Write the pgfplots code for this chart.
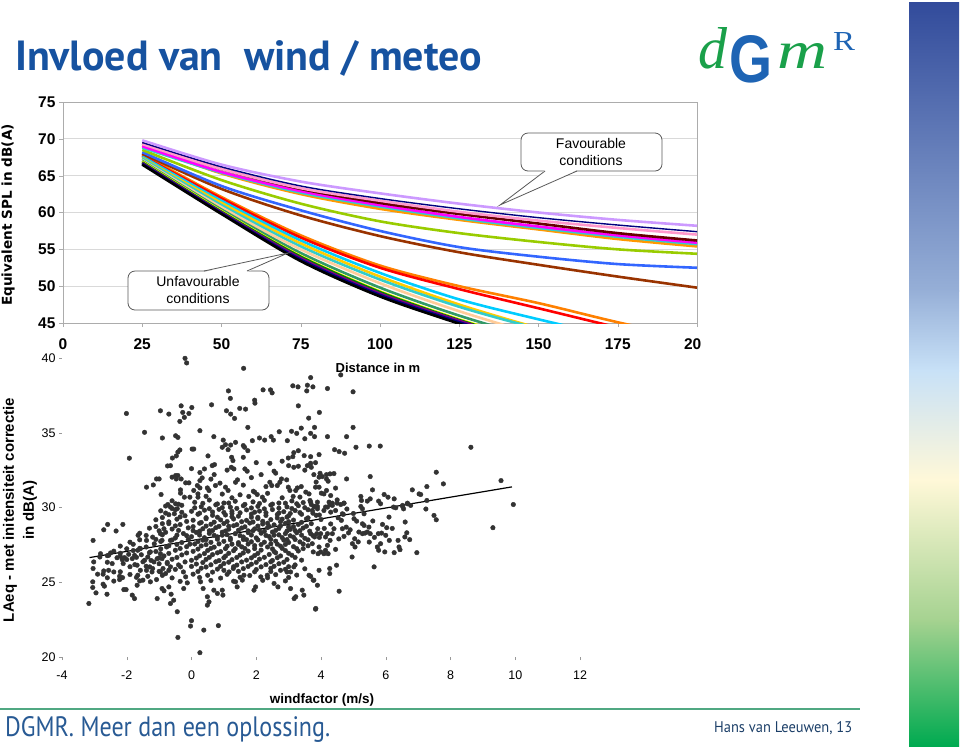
\documentclass[border=0pt]{standalone}
\usepackage{pgfplots}
\pgfplotsset{compat=1.18}
\usepackage{graphicx}
\usepackage{fontspec}
\setmainfont{Liberation Sans}
\newfontfamily\dejavu{DejaVu Sans}
\newfontfamily\ptsans{PT Sans}
\newfontfamily\lserif{Liberation Serif}
\definecolor{titleblue}{HTML}{1652A0}
\definecolor{footblue}{HTML}{285A94}
\definecolor{footline}{HTML}{50A882}
\definecolor{logogreen}{HTML}{1AA04A}
\definecolor{logoblue}{HTML}{1E64B4}
\definecolor{barA}{HTML}{324B9B}
\definecolor{barB}{HTML}{96AFD7}
\definecolor{barC}{HTML}{C8E1F7}
\definecolor{barD}{HTML}{FFF8D8}
\definecolor{barE}{HTML}{A5D290}
\definecolor{barF}{HTML}{00AA50}
\definecolor{cLav}{HTML}{CC99FF}
\definecolor{cNavy}{HTML}{000080}
\definecolor{cPink}{HTML}{FF99CC}
\definecolor{cMaroon}{HTML}{660000}
\definecolor{cMag}{HTML}{FF00FF}
\definecolor{cCyan}{HTML}{33CCCC}
\definecolor{cOrange}{HTML}{FF9900}
\definecolor{cYG}{HTML}{99CC00}
\definecolor{cBlue}{HTML}{3366FF}
\definecolor{cBrown}{HTML}{993300}
\definecolor{cPurple}{HTML}{800080}
\definecolor{cGreen}{HTML}{008000}
\definecolor{cYellow}{HTML}{FFFF00}
\definecolor{cTeal}{HTML}{339966}
\definecolor{cPeach}{HTML}{FFCC99}
\definecolor{cGold}{HTML}{FFCC00}
\definecolor{cSky}{HTML}{00CCFF}
\definecolor{cRed}{HTML}{FF0000}
\definecolor{cOr2}{HTML}{FF8000}
\definecolor{dotc}{HTML}{333333}
\begin{document}
\begin{tikzpicture}
\begin{scope}[x=1pt,y=-1pt]
\path[use as bounding box] (0,0) rectangle (960,748);
% gradient bar
\shade[top color=barA,bottom color=barB] (909,2) rectangle (959,291);
\shade[top color=barB,bottom color=barC] (909,290) rectangle (959,371);
\shade[top color=barC,bottom color=barD] (909,370) rectangle (959,481);
\shade[top color=barD,bottom color=barE] (909,480) rectangle (959,621);
\shade[top color=barE,bottom color=barF] (909,620) rectangle (959,746);
% title
\node[anchor=base west, inner sep=0pt, text=titleblue] at (15,70) {\resizebox{467pt}{30pt}{\ptsans\bfseries Invloed van\ \ wind / meteo}};
% logo
\node[anchor=base west, inner sep=0pt, text=logogreen] at (698,68) {\resizebox{29pt}{41pt}{\lserif\itshape d}};
\node[anchor=base west, inner sep=0pt, text=logoblue] at (729,82) {\resizebox{43pt}{47pt}{\bfseries G}};
\node[anchor=base west, inner sep=0pt, text=logogreen] at (777,68) {\resizebox{50pt}{25pt}{\lserif\itshape m}};
\node[anchor=base west, inner sep=0pt, text=logoblue] at (833,50) {\resizebox{22pt}{18pt}{\lserif R}};
% footer
\draw[footline, line width=2pt] (0,709) -- (860,709);
\node[anchor=base west, inner sep=0pt, text=footblue] at (5,736) {\resizebox{325pt}{20pt}{\ptsans DGMR. Meer dan een oplossing.}};
\node[anchor=base west, inner sep=0pt, text=footblue!70!black] at (714,732) {\resizebox{138pt}{11pt}{\ptsans Hans van Leeuwen, 13}};
\end{scope}

% ---------- top chart ----------
\begin{axis}[at={(63pt,-323pt)}, anchor=south west, scale only axis,
  width=634pt, height=221pt,
  xmin=0, xmax=200, ymin=45, ymax=75,
  xtick={0,25,...,200}, ytick={45,50,...,75},
  xticklabels={0,25,50,75,100,125,150,175,{20\phantom{0}}},
  ymajorgrids, grid style={gray!30, line width=0.8pt},
  axis line style={gray!65, line width=0.8pt},
  tick style={gray!65}, tick align=outside, tick pos=left, major tick length=4pt,
  ticklabel style={font=\fontsize{15.5}{16}\selectfont\bfseries},
  xticklabel style={yshift=-8pt},
  /pgf/number format/assume math mode=true]
% unfavourable
\addplot[cOr2, line width=2.6pt, smooth] coordinates {(25,67.9) (50,62.1) (75,56.9) (100,52.8) (125,50.0) (150,47.7) (175,45.1) (200,42.8)};
\addplot[cRed, line width=2.6pt, smooth] coordinates {(25,67.7) (50,61.9) (75,56.6) (100,52.5) (125,49.6) (150,47.0) (175,44.4) (200,42.0)};
\addplot[cSky, line width=2.6pt, smooth] coordinates {(25,67.6) (50,61.6) (75,56.2) (100,51.8) (125,48.2) (150,45.5) (175,43.0)};
\addplot[cGold, line width=2.6pt, smooth] coordinates {(25,67.4) (50,61.3) (75,55.8) (100,51.3) (125,47.5) (150,44.3) (175,41.5)};
\addplot[cCyan, line width=2.6pt, smooth] coordinates {(25,67.3) (50,61.0) (75,55.4) (100,50.9) (125,47.2) (150,44.2) (175,41.5)};
\addplot[cPeach, line width=2.6pt, smooth] coordinates {(25,67.1) (50,60.7) (75,55.0) (100,50.4) (125,46.6) (150,43.4) (175,40.8)};
\addplot[cTeal, line width=2.6pt, smooth] coordinates {(25,67.0) (50,60.4) (75,54.5) (100,49.8) (125,46.0) (150,42.8)};
\addplot[cYellow, line width=2.6pt, smooth] coordinates {(25,66.9) (50,60.2) (75,54.1) (100,49.3) (125,45.5) (150,42.3)};
\addplot[cGreen, line width=2.6pt, smooth] coordinates {(25,66.8) (50,60.1) (75,54.0) (100,49.2) (125,45.4) (150,42.2)};
\addplot[cPurple, line width=2.6pt, smooth] coordinates {(25,66.7) (50,60.0) (75,53.8) (100,49.0) (125,45.3) (150,42.0)};
\addplot[cNavy, line width=2.6pt, smooth] coordinates {(25,66.6) (50,59.9) (75,53.6) (100,48.8) (125,45.1) (150,41.8)};
\addplot[black, line width=2.6pt, smooth] coordinates {(25,66.5) (50,59.8) (75,53.4) (100,48.6) (125,44.9) (150,41.5)};
% favourable
\addplot[cBrown, line width=2.6pt, smooth] coordinates {(25,68.0) (50,63.2) (75,59.6) (100,56.8) (125,54.6) (150,52.9) (175,51.3) (200,49.8)};
\addplot[cBlue, line width=2.6pt, smooth] coordinates {(25,68.2) (50,63.6) (75,60.3) (100,57.5) (125,55.3) (150,54.0) (175,53.0) (200,52.5)};
\addplot[cYG, line width=2.6pt, smooth] coordinates {(25,68.5) (50,64.4) (75,61.2) (100,58.8) (125,57.2) (150,56.0) (175,55.0) (200,54.4)};
\addplot[cOrange, line width=2.6pt, smooth] coordinates {(25,69.1) (50,65.3) (75,62.5) (100,60.5) (125,59.0) (150,57.7) (175,56.4) (200,55.4)};
\addplot[cCyan, line width=2.6pt, smooth] coordinates {(25,68.8) (50,65.4) (75,62.7) (100,60.8) (125,59.2) (150,57.9) (175,56.7) (200,55.7)};
\addplot[cMag, line width=2.6pt, smooth] coordinates {(25,69.0) (50,65.5) (75,62.9) (100,61.0) (125,59.4) (150,58.1) (175,56.9) (200,55.9)};
\addplot[cMaroon, line width=2.6pt, smooth] coordinates {(25,69.4) (50,65.9) (75,63.2) (100,61.3) (125,59.8) (150,58.5) (175,57.2) (200,56.2)};
\addplot[cPink, line width=2.6pt, smooth] coordinates {(25,69.3) (50,65.9) (75,63.3) (100,61.6) (125,60.1) (150,58.9) (175,57.9) (200,57.0)};
\addplot[cNavy, line width=1.4pt, smooth] coordinates {(25,69.5) (50,66.2) (75,63.6) (100,61.9) (125,60.5) (150,59.3) (175,58.3) (200,57.4)};
\addplot[cLav, line width=2.6pt, smooth] coordinates {(25,69.8) (50,66.5) (75,64.2) (100,62.6) (125,61.2) (150,60.0) (175,59.0) (200,58.2)};
\end{axis}

\begin{scope}[x=1pt,y=-1pt]
% axis titles of the top chart
\node[rotate=90, inner sep=0pt] at (8,215) {\dejavu\bfseries\fontsize{13.6}{15}\selectfont Equivalent SPL in dB(A)};
\node[inner sep=0pt] at (378,368) {\fontsize{13}{14}\selectfont\bfseries Distance in m};
% callouts
\filldraw[fill=white, draw=black!65, line width=0.8pt, rounded corners=7pt] (521,133) rectangle (662,171);
\fill[white] (545,170) -- (500,205) -- (577,170) -- cycle;
\draw[black!65, line width=0.8pt] (545,171) -- (500,205) -- (577,171);
\node[align=center, inner sep=0pt, font=\fontsize{14}{17}\selectfont] at (591,152) {Favourable\\conditions};
\filldraw[fill=white, draw=black!65, line width=0.8pt, rounded corners=7pt] (128,271) rectangle (269,310);
\fill[white] (204,272) -- (288,253) -- (247,272) -- cycle;
\draw[black!65, line width=0.8pt] (204,271) -- (288,253) -- (247,271);
\node[align=center, inner sep=0pt, font=\fontsize{14}{17}\selectfont] at (198,290) {Unfavourable\\conditions};
% axis titles of the scatter
\node[rotate=90, inner sep=0pt] at (10,510) {\fontsize{15}{16}\selectfont\bfseries LAeq - met initensiteit correctie};
\node[rotate=90, inner sep=0pt] at (30,510) {\fontsize{15}{16}\selectfont\bfseries in dB(A)};
\node[inner sep=0pt] at (322,700) {\fontsize{13.5}{14}\selectfont\bfseries windfactor (m/s)};
\end{scope}

% ---------- scatter ----------
\begin{axis}[at={(62pt,-657pt)}, anchor=south west, scale only axis,
  width=518pt, height=299pt,
  xmin=-4, xmax=12, ymin=20, ymax=40,
  xtick={-4,-2,...,12}, ytick={20,25,...,40},
  axis line style={draw=none},
  tick style={gray!80, line width=0.5pt}, tick align=outside, tick pos=left, major tick length=3pt,
  ticklabel style={font=\fontsize{12.5}{13}\selectfont},
  xticklabel style={yshift=-7pt},
  /pgf/number format/assume math mode=true,
  clip=false]
\addplot[only marks, mark=*, mark size=2.3pt, mark options={fill=dotc, draw=dotc}] table {
x y
-0.20 39.98
-0.15 39.67
1.61 39.31
3.68 38.69
3.13 38.14
3.29 38.07
3.58 38.18
3.75 38.07
3.56 37.80
2.21 37.87
2.44 37.87
2.49 37.67
1.14 37.80
1.20 37.30
1.95 37.18
1.96 36.98
-2.01 36.29
-0.96 36.47
-0.70 36.25
-0.32 36.80
0.01 36.69
-0.27 36.36
-0.08 36.29
-0.22 36.03
-0.36 35.76
0.62 36.87
1.08 36.47
1.21 36.25
1.33 35.96
1.49 36.63
1.67 36.58
3.30 36.80
3.62 35.98
3.95 36.36
-1.45 35.03
-0.90 34.65
-0.49 34.80
-0.42 34.69
0.26 35.14
0.69 34.74
1.74 35.36
0.98 34.51
1.05 34.20
0.95 34.03
1.21 34.18
1.13 33.87
1.36 34.36
1.60 34.14
1.64 34.03
1.74 33.80
1.88 34.47
2.10 34.65
2.26 34.51
2.46 34.74
2.53 34.51
2.71 35.07
2.96 34.47
3.09 35.10
3.25 34.96
3.39 35.31
3.50 34.60
3.68 34.96
3.80 34.74
0.02 33.91
0.07 33.91
-0.36 33.85
-0.42 33.71
0.51 33.45
-0.59 33.31
-0.47 33.45
-0.74 32.78
-0.65 32.80
0.64 32.80
0.71 32.87
0.26 32.34
0.40 32.58
0.26 31.80
0.33 31.98
1.24 33.36
1.28 33.14
1.23 32.69
1.31 32.58
1.60 33.36
1.65 32.58
1.72 32.43
2.42 32.96
2.15 32.20
2.55 32.43
2.60 32.30
2.99 33.31
3.13 33.40
3.16 33.67
3.30 33.80
3.00 32.80
3.16 32.69
3.30 32.76
3.48 33.47
3.68 33.40
3.58 32.80
3.70 32.69
3.83 33.00
3.94 33.54
-1.92 33.30
-1.39 31.36
-1.18 31.51
-1.08 31.91
-1.00 31.91
-0.94 30.87
-0.42 32.14
-0.47 31.91
-0.32 31.91
-0.18 31.65
-0.08 31.65
-0.34 31.18
-0.34 30.96
-0.22 30.69
0.18 31.47
0.26 31.31
0.20 30.91
0.20 30.69
-0.60 32.03
-0.49 32.14
0.07 31.14
-0.05 30.69
0.49 31.31
0.54 31.14
0.74 31.47
0.88 31.63
1.05 31.36
1.13 31.14
1.36 31.69
1.42 31.85
1.77 30.74
1.91 31.09
1.95 31.03
2.03 30.87
2.19 30.69
2.42 31.69
2.48 31.47
2.65 31.47
2.73 31.69
2.78 31.91
2.94 31.85
2.99 31.36
3.04 31.14
3.14 30.74
3.22 31.14
3.27 31.31
3.39 31.40
3.53 31.03
3.63 30.91
3.66 30.47
3.81 30.07
3.89 30.36
3.94 32.03
3.97 32.29
4.20 37.96
4.61 38.87
4.99 37.74
3.80 35.36
4.20 34.74
4.99 35.36
4.79 34.74
4.42 33.87
4.56 33.74
4.73 33.63
5.08 34.03
5.49 34.11
5.83 34.11
8.63 34.03
3.68 32.96
3.78 32.20
4.04 32.07
4.17 32.20
4.28 32.25
4.40 32.27
4.17 31.91
4.22 31.76
3.83 31.36
3.94 31.36
4.01 30.96
4.09 30.91
4.17 31.14
4.79 31.91
5.52 32.07
5.59 31.18
5.95 30.87
6.07 30.69
5.23 30.74
5.25 30.47
5.43 30.43
5.52 30.58
5.78 30.43
5.84 30.25
6.26 30.58
6.82 31.18
7.03 30.91
7.08 30.87
7.27 31.40
7.56 32.36
7.78 31.58
7.27 30.47
9.56 31.80
9.94 30.20
3.78 30.07
3.89 30.07
4.14 30.03
4.28 30.20
4.35 30.29
4.50 30.51
4.71 30.29
6.52 30.07
6.67 30.25
7.24 29.90
9.31 28.65
7.49 29.47
7.56 29.18
6.96 26.98
6.60 29.03
6.65 28.31
6.74 27.85
6.59 28.03
6.38 27.80
6.41 27.36
6.44 27.18
6.26 26.98
6.10 29.36
6.03 28.65
6.11 27.80
5.90 28.87
5.87 28.29
5.77 28.25
5.84 27.58
5.74 27.36
5.78 27.14
5.97 27.03
6.00 28.14
5.64 26.03
6.24 30.03
6.31 29.98
6.52 30.14
6.55 29.91
6.67 30.29
6.77 30.14
5.48 28.69
5.43 28.36
5.52 28.25
5.36 28.29
5.49 27.69
5.28 28.25
5.17 28.36
5.04 27.91
4.97 27.58
5.05 27.36
4.96 26.69
5.28 28.91
5.33 28.80
5.23 30.07
5.28 29.91
5.33 29.58
5.02 29.25
5.10 29.09
4.90 28.51
4.78 28.69
4.71 28.07
4.66 28.58
4.63 29.14
4.69 29.54
4.53 29.31
4.40 28.58
4.35 28.25
4.28 27.80
4.20 27.47
4.14 27.14
4.09 26.91
4.22 26.91
3.99 27.03
3.91 26.91
3.94 27.36
4.20 28.25
4.14 28.03
3.99 28.25
3.87 28.25
3.80 28.03
3.68 28.25
3.73 27.58
3.76 27.03
4.48 26.14
4.27 25.92
4.27 25.58
3.94 25.80
4.56 24.40
3.68 25.40
3.76 25.14
3.89 24.80
3.83 23.20
4.25 30.36
4.35 30.14
4.50 30.29
4.61 30.20
4.71 30.29
4.45 29.80
4.30 29.69
4.66 29.58
4.20 30.03
4.09 29.80
3.89 29.91
3.73 29.80
3.68 30.36
-3.04 27.80
-2.71 28.51
-2.59 28.87
-2.33 28.43
-2.12 28.87
-1.65 28.14
-1.39 27.80
-3.17 23.58
-3.05 25.03
-3.05 24.65
-2.95 24.29
-3.02 26.36
-3.04 25.92
-2.90 25.54
-2.71 25.76
-2.73 25.54
-2.56 25.80
-2.73 24.87
-2.69 24.74
-2.61 24.20
-2.22 25.40
-2.22 25.18
-2.13 25.31
-2.09 24.51
-2.02 24.51
-1.83 24.14
-1.76 23.91
-2.20 26.74
-2.14 26.51
-2.07 26.65
-2.11 26.25
-1.94 26.87
-1.83 26.58
-1.76 26.80
-1.66 27.14
-1.58 27.25
-2.56 26.80
-2.50 26.96
-2.45 26.25
-2.40 25.69
-2.83 26.69
-2.81 26.91
-1.68 26.14
-1.58 25.80
-1.66 25.47
-1.60 25.09
-1.68 24.80
-1.39 25.80
-1.29 26.03
-1.35 25.40
-1.22 25.69
-1.27 25.03
-1.08 25.18
-1.06 23.91
-1.45 26.47
-1.35 26.69
-1.27 27.03
-1.16 26.36
-1.06 26.58
-0.96 28.25
-0.91 27.80
-0.85 28.58
-0.77 27.36
-0.70 28.92
-0.65 27.80
-0.96 26.91
-0.91 26.58
-0.75 26.25
-0.88 25.92
-0.80 25.58
-0.70 25.80
-0.96 25.69
-0.91 24.58
-0.85 24.43
-0.70 24.69
-0.63 24.20
-0.55 23.80
-0.65 23.58
-0.44 23.03
-0.42 21.31
0.00 22.43
-0.03 22.07
0.38 21.80
0.83 22.10
0.26 20.29
-0.53 29.58
-0.44 29.92
-0.65 30.03
-0.73 30.20
-0.49 30.25
-0.34 26.03
-0.18 25.36
-0.13 24.96
-0.24 24.58
0.28 25.03
0.36 24.58
0.49 24.03
0.54 23.69
0.49 23.47
0.69 24.47
0.80 24.25
0.95 24.47
0.97 24.14
1.36 25.03
1.41 24.69
1.57 25.14
1.62 25.47
1.93 24.47
1.98 24.69
1.16 25.69
1.29 25.92
1.00 25.80
2.55 24.92
2.67 24.69
3.06 24.58
3.17 23.91
3.22 24.03
3.42 24.47
3.47 24.14
3.84 23.25
2.14 25.36
2.34 25.47
2.75 25.80
3.06 25.69
3.16 26.03
3.63 25.47
3.78 25.14
-0.60 30.45
0.10 30.35
0.55 30.50
1.00 30.30
1.35 30.42
1.90 30.38
2.25 30.48
2.70 30.30
3.10 30.44
3.45 30.33
-0.80 30.10
-0.30 30.15
0.30 30.05
0.75 30.18
1.20 30.02
1.60 30.12
2.05 30.08
2.45 30.16
2.95 30.04
3.30 30.12
-0.95 29.78
-0.50 29.85
0.00 29.75
0.40 29.82
0.85 29.88
1.25 29.74
1.70 29.84
2.10 29.76
2.50 29.86
2.85 29.72
3.20 29.80
3.60 29.85
-0.70 29.52
-0.20 29.45
0.20 29.55
0.65 29.48
1.05 29.50
1.45 29.42
1.85 29.56
2.30 29.47
2.65 29.53
3.00 29.44
3.40 29.55
3.85 29.48
-1.10 29.18
-0.45 29.22
0.05 29.15
0.45 29.25
0.90 29.17
1.30 29.23
1.70 29.14
2.05 29.26
2.45 29.19
2.80 29.22
3.15 29.16
3.55 29.24
4.00 29.20
-0.90 28.92
-0.35 28.86
0.25 28.95
0.60 28.88
1.00 28.93
1.40 28.85
1.80 28.96
2.20 28.90
2.55 28.84
2.90 28.94
3.30 28.87
3.70 28.92
-1.30 28.62
-0.60 28.56
-0.10 28.64
0.35 28.58
0.75 28.65
1.15 28.55
1.55 28.63
1.95 28.57
2.35 28.66
2.70 28.60
3.05 28.54
3.45 28.63
3.90 28.58
-1.60 28.28
-0.80 28.34
-0.25 28.26
0.15 28.33
0.55 28.27
0.95 28.35
1.35 28.25
1.75 28.32
2.15 28.28
2.50 28.36
2.90 28.26
3.25 28.31
-1.20 28.02
-0.50 27.96
0.00 28.05
0.40 27.98
0.80 28.04
1.20 27.95
1.60 28.03
2.00 27.97
2.40 28.06
2.80 27.99
3.15 28.02
3.50 27.94
3.95 28.00
-1.90 27.68
-0.95 27.73
-0.30 27.66
0.20 27.72
0.60 27.67
1.00 27.74
1.45 27.65
1.85 27.71
2.25 27.68
2.60 27.75
3.00 27.66
3.35 27.70
-2.20 27.42
-1.40 27.36
-0.70 27.44
-0.15 27.38
0.30 27.43
0.70 27.35
1.10 27.41
1.55 27.37
1.95 27.45
2.35 27.36
2.75 27.42
3.15 27.38
3.60 27.44
-2.40 27.08
-1.80 27.12
-1.10 27.06
-0.50 27.14
0.05 27.07
0.50 27.13
0.90 27.05
1.30 27.11
1.75 27.08
2.15 27.15
2.55 27.06
2.90 27.12
3.30 27.09
-2.60 26.78
-1.55 26.84
-0.85 26.76
-0.30 26.83
0.25 26.77
0.65 26.85
1.05 26.75
1.50 26.82
1.95 26.79
2.40 26.86
2.75 26.76
3.10 26.81
-2.00 26.52
-1.25 26.46
-0.60 26.54
0.00 26.47
0.45 26.53
0.85 26.45
1.25 26.51
1.70 26.48
2.10 26.55
2.50 26.46
2.95 26.52
3.40 26.48
-1.75 26.18
-1.00 26.24
-0.40 26.16
0.15 26.22
0.60 26.17
1.00 26.25
1.40 26.15
1.85 26.21
2.30 26.18
2.70 26.24
3.20 26.16
-1.20 25.92
-0.50 25.86
0.30 25.94
0.80 25.88
1.60 25.91
2.00 25.85
2.45 25.93
2.90 25.87
3.50 25.90
-1.90 25.52
-0.90 25.46
0.05 25.54
0.50 25.47
1.10 25.53
1.80 25.45
2.60 25.51
3.25 25.48
-2.40 25.08
-1.50 25.14
-0.35 25.06
0.60 25.12
1.30 25.07
2.20 25.13
2.90 25.09
0.30 29.00
0.80 29.35
1.15 28.75
1.55 29.05
1.90 28.45
2.35 28.95
2.65 29.30
3.00 28.70
0.55 28.45
0.95 28.15
1.70 27.85
2.10 28.50
2.55 28.15
2.95 27.85
1.25 27.55
0.45 27.85
1.85 29.35
2.75 29.05
3.35 28.45
0.05 28.45
-0.45 28.15
0.65 29.70
1.50 29.65
2.30 29.65
3.05 29.60
1.05 27.25
1.95 27.25
2.65 27.55
3.25 27.25
-0.05 27.55
-0.40 30.22
0.35 30.28
0.80 30.24
1.15 30.30
1.65 30.21
2.10 30.27
2.50 30.23
2.90 30.29
3.25 30.25
3.70 30.20
-0.60 29.93
0.10 29.98
0.55 29.92
0.95 29.99
1.40 29.94
1.85 29.97
2.25 29.91
2.70 29.96
3.10 29.93
3.50 29.99
-0.80 29.63
-0.30 29.68
0.25 29.62
1.00 29.67
1.25 29.60
1.95 29.69
2.70 29.64
3.35 29.66
3.75 29.62
-0.90 29.33
-0.35 29.37
0.45 29.32
1.25 29.38
2.05 29.34
2.95 29.36
3.60 29.31
-0.70 29.04
-0.15 29.07
0.70 29.02
1.10 29.06
1.90 29.03
2.20 29.08
3.00 29.05
3.40 29.01
-1.10 28.73
-0.50 28.77
0.05 28.72
0.45 28.76
0.85 28.74
1.30 28.78
1.65 28.71
2.05 28.76
2.40 28.73
2.75 28.77
3.15 28.72
3.55 28.75
-1.00 28.44
-0.40 28.47
0.25 28.42
0.65 28.46
1.05 28.43
1.45 28.48
1.75 28.44
2.25 28.41
2.60 28.47
2.95 28.43
3.20 28.46
3.65 28.42
-1.40 28.13
-0.90 28.17
-0.15 28.12
0.25 28.16
0.70 28.14
1.10 28.18
1.50 28.12
1.85 28.16
2.30 28.13
2.70 28.17
3.05 28.11
3.40 28.15
3.75 28.13
-1.60 27.84
-1.10 27.87
-0.60 27.83
-0.10 27.86
0.35 27.82
0.80 27.88
1.20 27.84
1.60 27.86
2.05 27.83
2.45 27.87
2.85 27.82
3.20 27.86
3.60 27.84
-1.80 27.54
-1.15 27.57
-0.45 27.53
0.10 27.56
0.45 27.52
0.85 27.57
1.45 27.54
1.75 27.56
2.15 27.52
2.45 27.57
2.90 27.53
3.45 27.56
-2.00 27.24
-1.60 27.27
-0.95 27.23
-0.35 27.26
0.20 27.22
0.60 27.27
1.35 27.24
1.65 27.26
2.50 27.23
2.80 27.27
3.45 27.25
-2.20 26.94
-1.30 26.97
-0.70 26.93
-0.15 26.96
0.40 26.92
0.80 26.97
1.15 26.94
1.60 26.96
2.05 26.93
2.60 26.97
3.00 26.94
-2.30 26.64
-1.70 26.67
-1.00 26.63
-0.45 26.66
0.15 26.62
0.55 26.67
1.00 26.64
1.40 26.66
1.85 26.63
2.25 26.67
2.65 26.64
3.20 26.66
-2.60 26.34
-1.50 26.37
-0.75 26.33
-0.20 26.36
0.35 26.32
0.75 26.37
1.15 26.34
1.55 26.36
2.00 26.33
2.45 26.37
2.85 26.34
-1.90 26.04
-1.40 26.07
-0.65 26.03
0.00 26.06
0.45 26.02
0.90 26.07
1.30 26.04
1.75 26.06
2.15 26.03
2.55 26.07
3.00 26.04
-2.20 25.70
-1.00 25.73
-0.25 25.69
0.20 25.72
0.65 25.68
1.45 25.73
1.95 25.70
2.45 25.72
2.95 25.69
-2.60 25.30
-1.70 25.33
-0.60 25.29
0.25 25.32
0.90 25.28
1.50 25.33
2.35 25.30
3.00 25.32
4.30 28.90
4.55 27.90
4.85 28.30
5.15 27.70
5.60 29.10
5.00 29.60
4.45 27.20
4.80 29.90
5.65 28.00
6.20 28.60
4.10 28.60
3.95 29.50
0.45 30.75
0.95 30.90
1.50 30.85
2.35 30.95
2.80 30.65
3.35 30.70
4.30 30.80
0.70 32.20
1.85 32.00
2.30 31.40
3.50 32.50
1.10 32.50
2.00 33.00
0.00 32.60
2.80 33.10
1.60 31.50
0.60 31.90
3.85 31.70
4.45 31.30
1.25 30.65
};
\addplot[black, line width=1.2pt] coordinates {(-3.15,26.65) (9.9,31.38)};
\end{axis}
\end{tikzpicture}
\end{document}
